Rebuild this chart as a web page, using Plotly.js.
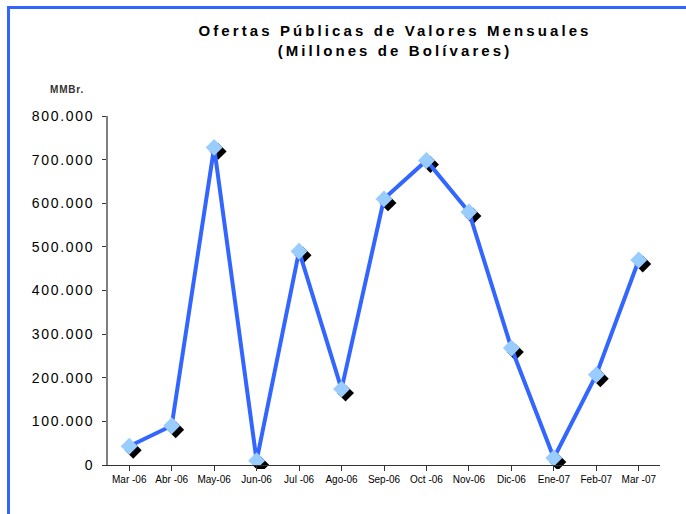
<!DOCTYPE html>
<html>
<head>
<meta charset="utf-8">
<script src="https://cdn.plot.ly/plotly-3.0.1.min.js"></script>
<style>
html, body { margin:0; padding:0; background:#fff; }
#chart { width:686px; height:514px; }
.gtitle { letter-spacing: 3.1px; }
.y2tick text { letter-spacing: 1.7px; }
.annotation-text { letter-spacing: 0.8px; }
</style>
</head>
<body>
<div id="chart"></div>
<script>
const categories = ["Mar-06","Abr-06","May-06","Jun-06","Jul-06","Ago-06","Sep-06","Oct-06","Nov-06","Dic-06","Ene-07","Feb-07","Mar-07"];
const tickLabels = ["Mar -06","Abr -06","May-06","Jun-06","Jul -06","Ago-06","Sep-06","Oct -06","Nov-06","Dic-06","Ene-07","Feb-07","Mar -07"];
const values = [43000, 90000, 728000, 10000, 490000, 174000, 610000, 698000, 580000, 268000, 16000, 207000, 470000];
const yTickVals = [0,100000,200000,300000,400000,500000,600000,700000,800000];
const yTickText = ["0","100.000","200.000","300.000","400.000","500.000","600.000","700.000","800.000"];

const W = 686, H = 514;
const L = 108, R = 22, T = 116, B = 45;
const pw = W - L - R, ph = H - T - B;
const off = 4;
const xMain = [0, (pw - off) / pw];
const xShadow = [off / pw, 1];
const yMain = [off / ph, 1];
const yShadow = [0, (ph - off) / ph];
const px = v => (v - L) / pw;
const py = v => (H - B - v) / ph;

const xIdx = categories.map((c, i) => i);

const traces = [
  {
    x: xIdx, y: values, xaxis: 'x', yaxis: 'y',
    type: 'scatter', mode: 'markers',
    marker: { symbol: 'diamond', size: 13, color: '#000000' },
    hoverinfo: 'skip', showlegend: false
  },
  {
    x: xIdx, y: values, xaxis: 'x2', yaxis: 'y2',
    type: 'scatter', mode: 'lines+markers',
    line: { color: '#3366FF', width: 4 },
    marker: { symbol: 'diamond', size: 13, color: '#99CCFF' },
    showlegend: false
  }
];

const baseX = {
  range: [-0.5, 12.5], tickmode: 'array', tickvals: xIdx, ticktext: tickLabels,
  showgrid: false, zeroline: false, fixedrange: true
};
const baseY = { range: [0, 800000], showgrid: false, zeroline: false, fixedrange: true };

const layout = {
  width: W, height: H,
  margin: { l: L, r: R, t: T, b: B },
  paper_bgcolor: '#ffffff', plot_bgcolor: 'rgba(0,0,0,0)',
  font: { family: 'Liberation Sans, Arial, sans-serif', color: '#000' },
  title: {
    text: '<b>Ofertas Públicas de Valores Mensuales</b><br><b>(Millones de Bolívares)</b>',
    font: { size: 15, color: '#000', family: 'Liberation Sans, Arial, sans-serif' },
    x: 395 / W, xanchor: 'center', y: 1 - 36 / H, yanchor: 'top'
  },
  xaxis2: Object.assign({}, baseX, {
    domain: xMain, anchor: 'y2',
    showline: true, linecolor: '#333', linewidth: 1,
    ticks: 'outside', ticklen: 5, tickcolor: '#333', tickwidth: 1,
    tickson: 'boundaries',
    tickfont: { size: 10, color: '#000' }
  }),
  yaxis2: Object.assign({}, baseY, {
    domain: yMain, anchor: 'x2',
    tickmode: 'array', tickvals: yTickVals, ticktext: yTickText,
    showline: true, linecolor: '#808080', linewidth: 2,
    ticks: 'outside', ticklen: 4, tickcolor: '#333', tickwidth: 1,
    ticklabelstandoff: 5,
    tickfont: { size: 14, color: '#000' }
  }),
  xaxis: Object.assign({}, baseX, { domain: xShadow, anchor: 'y', visible: false }),
  yaxis: Object.assign({}, baseY, { domain: yShadow, anchor: 'x', visible: false }),
  annotations: [{
    text: '<b>MMBr.</b>', xref: 'paper', yref: 'paper',
    x: px(48), y: py(89), xanchor: 'left', yanchor: 'middle',
    showarrow: false, font: { size: 10, color: '#333' }
  }],
  shapes: [
    { type: 'line', xref: 'paper', yref: 'paper', x0: px(8.5), x1: px(690), y0: py(7.5), y1: py(7.5), line: { color: '#3366FF', width: 3 } },
    { type: 'line', xref: 'paper', yref: 'paper', x0: px(8.5), x1: px(8.5), y0: py(6), y1: py(520), line: { color: '#3366FF', width: 3 } }
  ]
};

Plotly.newPlot('chart', traces, layout, { displayModeBar: false, staticPlot: true });
</script>
</body>
</html>
